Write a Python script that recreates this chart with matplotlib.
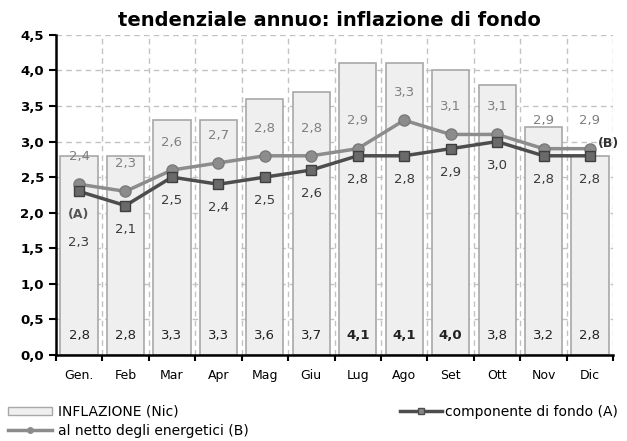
import numpy as np
import matplotlib.pyplot as plt
from matplotlib.patches import Rectangle
from matplotlib.lines import Line2D

mesi = ["Gen.", "Feb", "Mar", "Apr", "Mag", "Giu", "Lug", "Ago", "Set", "Ott", "Nov", "Dic"]
inflazione_nic = [2.8, 2.8, 3.3, 3.3, 3.6, 3.7, 4.1, 4.1, 4.0, 3.8, 3.2, 2.8]
componente_fondo = [2.3, 2.1, 2.5, 2.4, 2.5, 2.6, 2.8, 2.8, 2.9, 3.0, 2.8, 2.8]
netto_energetici = [2.4, 2.3, 2.6, 2.7, 2.8, 2.8, 2.9, 3.3, 3.1, 3.1, 2.9, 2.9]
y_ticks = [0.0, 0.5, 1.0, 1.5, 2.0, 2.5, 3.0, 3.5, 4.0, 4.5]


def virgola(v):
    return f"{v:.1f}".replace(".", ",")


fig = plt.figure(figsize=(6.27, 4.41), dpi=100)
ax = fig.add_axes([0.089, 0.195, 0.889, 0.726])
x = np.arange(len(mesi))

# griglia tratteggiata
for yv in y_ticks[1:]:
    ax.axhline(yv, color="#c2c2c2", lw=1, ls=(0, (4, 3)), zorder=0)
for xv in np.arange(-0.5, len(mesi), 1.0)[1:]:
    ax.axvline(xv, color="#c2c2c2", lw=1, ls=(0, (4, 3)), zorder=0)

ax.bar(x, inflazione_nic, width=0.8, color="#efefef", edgecolor="#a8a8a8",
       lw=1.2, zorder=2)

ax.plot(x, netto_energetici, color="#8c8c8c", lw=2.5, marker="o", ms=8,
        mfc="#8c8c8c", mec="#7a7a7a", zorder=4)
ax.plot(x, componente_fondo, color="#4d4d4d", lw=2.5, marker="s", ms=7,
        mfc="#6a6a6a", mec="#3f3f3f", zorder=5)

# etichette barre
for i, v in enumerate(inflazione_nic):
    ax.text(i, 0.28, virgola(v), ha="center", va="center", fontsize=9.5,
            color="#222222", fontweight="bold" if v >= 4.0 else "normal", zorder=6)

# etichette serie B (sopra)
for i, v in enumerate(netto_energetici):
    ax.annotate(virgola(v), (i, v), xytext=(0, 20), textcoords="offset points",
                ha="center", va="center", fontsize=9.5, color="#808080", zorder=6)

# etichette serie A (sotto)
for i, v in enumerate(componente_fondo):
    dy = -37 if i == 0 else -17
    ax.annotate(virgola(v), (i, v), xytext=(0, dy), textcoords="offset points",
                ha="center", va="center", fontsize=9.5, color="#3a3a3a", zorder=6)

ax.annotate("(A)", (0, componente_fondo[0]), xytext=(0, -17), textcoords="offset points",
            ha="center", va="center", fontsize=9, fontweight="bold", color="#555555", zorder=6)
ax.annotate("(B)", (len(mesi) - 1, netto_energetici[-1]), xytext=(6, 4),
            textcoords="offset points", ha="left", va="center", fontsize=9,
            fontweight="bold", color="#333333", zorder=6, annotation_clip=False)

ax.set_xlim(-0.5, len(mesi) - 0.5)
ax.set_ylim(0, 4.5)
ax.set_yticks(y_ticks)
ax.set_yticklabels([virgola(v) for v in y_ticks], fontsize=9.5, fontweight="bold")
ax.set_xticks(np.arange(-0.5, len(mesi), 1.0))
ax.set_xticklabels([])
ax.set_xticks(x, minor=True)
ax.set_xticklabels(mesi, minor=True, fontsize=9)
ax.tick_params(axis="x", which="minor", length=0, pad=10)
ax.tick_params(axis="x", which="major", length=4, width=1.5, direction="out")
ax.tick_params(axis="y", length=5, width=1.5, direction="out")

for s in ["top", "right"]:
    ax.spines[s].set_visible(False)
for s in ["left", "bottom"]:
    ax.spines[s].set_linewidth(1.8)

fig.text(0.525, 0.953, "tendenziale annuo: inflazione di fondo", ha="center",
         va="center", fontsize=14, fontweight="bold")

h_bar = Rectangle((0, 0), 1, 1, facecolor="#efefef", edgecolor="#a8a8a8")
h_b = Line2D([], [], color="#8c8c8c", lw=2.5, marker="o", ms=4)
h_a = Line2D([], [], color="#4d4d4d", lw=2.5, marker="s", ms=5, mfc="#888888")

fig.legend([h_bar, h_b], ["INFLAZIONE (Nic)", "al netto degli energetici (B)"],
           loc="upper left", bbox_to_anchor=(0.012, 0.082), frameon=False,
           fontsize=10, handlelength=3.2, handleheight=0.6, handletextpad=0.4,
           labelspacing=0.35, borderpad=0, borderaxespad=0)
fig.legend([h_a], ["componente di fondo (A)"], loc="upper right",
           bbox_to_anchor=(0.985, 0.082), frameon=False, fontsize=10,
           handlelength=3.0, handletextpad=0.2, borderpad=0, borderaxespad=0)

fig.savefig("out.png", dpi=100, facecolor="white")
